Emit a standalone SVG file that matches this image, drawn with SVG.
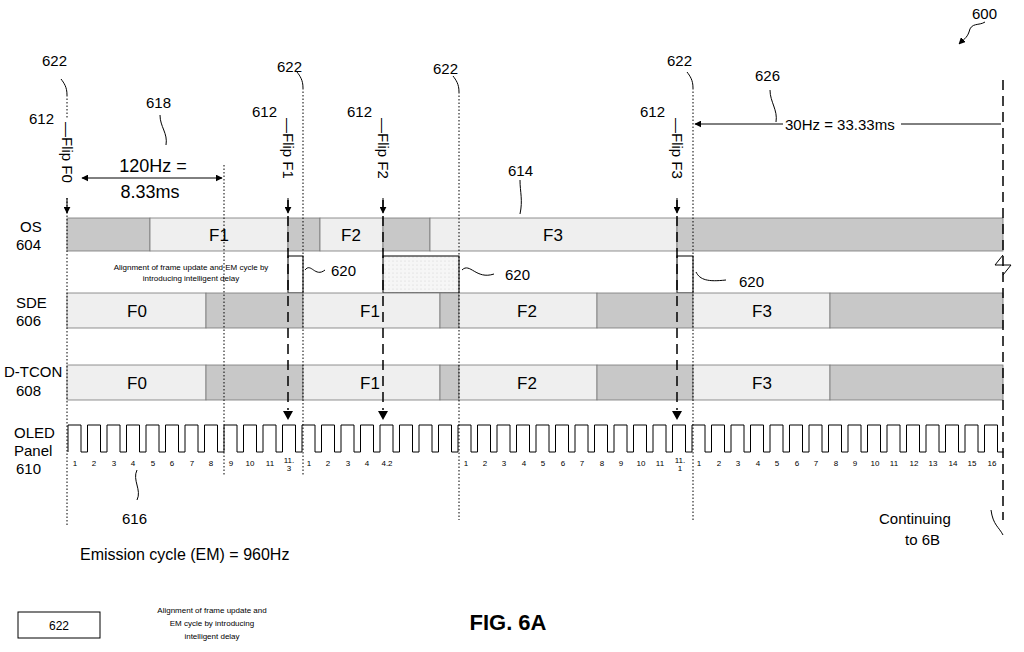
<svg xmlns="http://www.w3.org/2000/svg" width="1024" height="652" viewBox="0 0 1024 652">
<defs>
<marker id="ah" viewBox="0 0 10 10" refX="9" refY="5" markerWidth="7" markerHeight="7" orient="auto-start-reverse"><path d="M0,0L10,5L0,10z" fill="#000"/></marker>
<pattern id="hatch" width="4" height="4" patternUnits="userSpaceOnUse"><rect width="4" height="4" fill="#f6f6f6"/><circle cx="1" cy="1" r="0.5" fill="#ccc"/></pattern>
</defs>
<style>
text{font-family:"Liberation Sans",Arial,sans-serif;fill:#000}
.lb{font-size:15px}
.fr{font-size:17px;text-anchor:middle}
.n{font-size:8px;text-anchor:middle}
.g{fill:#c8c8c8;stroke:#777;stroke-width:0.8}
.l{fill:#efefef;stroke:#777;stroke-width:0.8}
.dot{stroke:#000;stroke-width:1;stroke-dasharray:1.5,2;fill:none}
.dash{stroke:#000;stroke-width:1.5;stroke-dasharray:10,6;fill:none}
.ld{stroke:#000;stroke-width:1;fill:none}
.sm{font-size:8px;text-anchor:middle}
</style>
<rect width="1024" height="652" fill="#fff"/>
<g id="rows">
<g id="os"><rect class="g" x="67" y="218" width="83" height="33"/><rect class="l" x="150" y="218" width="138" height="33"/><rect class="g" x="288" y="218" width="32" height="33"/><rect class="l" x="320" y="218" width="63" height="33"/><rect class="g" x="383" y="218" width="47" height="33"/><rect class="l" x="430" y="218" width="247" height="33"/><rect class="g" x="677" y="218" width="326" height="33"/>
<text class="fr" x="219" y="241">F1</text><text class="fr" x="351" y="241">F2</text><text class="fr" x="553" y="241">F3</text></g>
<g id="delay"><rect x="288" y="256" width="15" height="37" fill="#fff" stroke="#000"/><rect x="383" y="256" width="76" height="37" fill="url(#hatch)" stroke="#000"/><rect x="677" y="256" width="16" height="37" fill="#fff" stroke="#000"/>
<text class="sm" x="191" y="270">Alignment of frame update and EM cycle by</text><text class="sm" x="191" y="281">introducing intelligent delay</text></g>
<g id="sde"><rect class="l" x="67" y="293" width="139" height="35"/><rect class="g" x="206" y="293" width="97" height="35"/><rect class="l" x="303" y="293" width="137" height="35"/><rect class="g" x="440" y="293" width="19" height="35"/><rect class="l" x="459" y="293" width="138" height="35"/><rect class="g" x="597" y="293" width="96" height="35"/><rect class="l" x="693" y="293" width="137" height="35"/><rect class="g" x="830" y="293" width="173" height="35"/>
<text class="fr" x="137" y="317">F0</text><text class="fr" x="370" y="317">F1</text><text class="fr" x="527" y="317">F2</text><text class="fr" x="762" y="317">F3</text></g>
<g id="dtcon"><rect class="l" x="67" y="365" width="139" height="35"/><rect class="g" x="206" y="365" width="97" height="35"/><rect class="l" x="303" y="365" width="137" height="35"/><rect class="g" x="440" y="365" width="19" height="35"/><rect class="l" x="459" y="365" width="138" height="35"/><rect class="g" x="597" y="365" width="96" height="35"/><rect class="l" x="693" y="365" width="137" height="35"/><rect class="g" x="830" y="365" width="173" height="35"/>
<text class="fr" x="137" y="389">F0</text><text class="fr" x="370" y="389">F1</text><text class="fr" x="527" y="389">F2</text><text class="fr" x="762" y="389">F3</text></g>
<g id="oled"><path class="ld" stroke-width="1.3" d="M68,452V425
h13v27h6.5v-27h13v27h6.5v-27h13v27h6.5v-27h13v27h6.5v-27h13v27h6.5v-27h13v27h6.5v-27h13v27h6.5v-27h13v27h6.5v-27
h13v27h6.5v-27h13v27h6.5v-27h13v27h6.5v-27h13v27h6.5v-27h13v27h6.5v-27h13v27h6.5v-27h13v27h6.5v-27h13v27h6.5v-27
h13v27h6.5v-27h13v27h6.5v-27h13v27h6.5v-27h13v27h6.5v-27h13v27h6.5v-27h13v27h6.5v-27h13v27h6.5v-27h13v27h6.5v-27
h13v27h6.5v-27h13v27h6.5v-27h13v27h6.5v-27h13v27h6.5v-27h13v27h6.5v-27h13v27h6.5v-27h13v27h6.5v-27h13v27h6.5v-27
h13v27h6.5v-27h13v27h6.5v-27h13v27h6.5v-27h13v27h6.5v-27h13v27h6.5v-27h13v27h6.5v-27h13v27h6.5v-27h13v27h6.5v-27
h13v27h6.5v-27h13v27h6.5v-27h13v27h6.5v-27h13v27h6.5v-27h13v27h6.5v-27h13v27h6.5v-27h13v27h6.5v-27h13v27h6"/>
<g class="n">
<text x="75" y="466">1</text><text x="94" y="466">2</text><text x="114" y="466">3</text><text x="133" y="466">4</text><text x="153" y="466">5</text><text x="172" y="466">6</text><text x="192" y="466">7</text><text x="211" y="466">8</text><text x="231" y="466">9</text><text x="250" y="466">10</text><text x="270" y="466">11</text><text x="289" y="463">11.</text><text x="289" y="471">3</text>
<text x="309" y="466">1</text><text x="328" y="466">2</text><text x="348" y="466">3</text><text x="367" y="466">4</text><text x="387" y="466">4.2</text>
<text x="466" y="466">1</text><text x="485" y="466">2</text><text x="504" y="466">3</text><text x="524" y="466">4</text><text x="543" y="466">5</text><text x="563" y="466">6</text><text x="582" y="466">7</text><text x="602" y="466">8</text><text x="621" y="466">9</text><text x="641" y="466">10</text><text x="660" y="466">11</text><text x="680" y="463">11.</text><text x="680" y="471">1</text>
<text x="699" y="466">1</text><text x="719" y="466">2</text><text x="738" y="466">3</text><text x="758" y="466">4</text><text x="777" y="466">5</text><text x="797" y="466">6</text><text x="816" y="466">7</text><text x="836" y="466">8</text><text x="855" y="466">9</text><text x="875" y="466">10</text><text x="894" y="466">11</text><text x="914" y="466">12</text><text x="933" y="466">13</text><text x="953" y="466">14</text><text x="972" y="466">15</text><text x="992" y="466">16</text>
</g></g>
</g>
<g id="connectors">
<path class="dot" d="M67,95V118M67,198V525M224,165V475M303,88V475M459,92V520M693,88V520"/>
<path class="dash" d="M288,200V410M383,200V410M677,200V410M1003,80V520"/>
<path class="ld" d="M67,198V213" marker-end="url(#ah)"/>
<path class="ld" d="M288,198V213" marker-end="url(#ah)"/>
<path class="ld" d="M383,198V213" marker-end="url(#ah)"/>
<path class="ld" d="M677,198V213" marker-end="url(#ah)"/>
<path d="M283,411h10l-5,9zM378,411h10l-5,9zM672,411h10l-5,9z" fill="#000"/>
<path class="ld" d="M82,178H222" marker-start="url(#ah)" marker-end="url(#ah)"/>
<path class="ld" d="M695,124H1001" marker-start="url(#ah)"/>
<path class="ld" d="M67,95c0,-8 -3,-12 -6,-16M303,88c0,-8 -3,-12 -6,-16M459,92c0,-8 -3,-12 -6,-16M693,88c0,-8 -3,-12 -6,-16"/>
<path class="ld" d="M160,115c0,12 8,18 6,30M520,180c0,12 3,20 0,34M770,90c0,12 8,20 6,32M137,470c-5,10 5,20 0,30"/>
<path class="ld" d="M305,270c6,-8 10,8 20,0M462,270c8,-8 14,10 32,4M696,272c4,8 12,10 30,8"/>
<path class="ld" d="M985,22c-6,4 -14,0 -16,10c-2,6 -6,8 -10,12" marker-end="url(#ah)"/>
<path class="ld" d="M1003,535c-4,-8 -10,-10 -12,-25"/>
<path class="ld" stroke-width="1.3" d="M1003,255l-8,10l16,0l-8,10"/>
</g>
<g id="labels">
<text class="lb" x="20" y="232">OS</text><text class="lb" x="16" y="250">604</text>
<text class="lb" x="16" y="308">SDE</text><text class="lb" x="16" y="326">606</text>
<text class="lb" x="4" y="377">D-TCON</text><text class="lb" x="16" y="396">608</text>
<text class="lb" x="14" y="438">OLED</text><text class="lb" x="14" y="456">Panel</text><text class="lb" x="16" y="474">610</text>
<text class="lb" x="42" y="66">622</text><text class="lb" x="277" y="72">622</text><text class="lb" x="433" y="74">622</text><text class="lb" x="667" y="66">622</text>
<text class="lb" x="29" y="124">612</text><text class="lb" x="252" y="117">612</text><text class="lb" x="347" y="117">612</text><text class="lb" x="640" y="117">612</text>
<g font-size="15"><text transform="translate(62,122) rotate(90)">—Flip F0</text><text transform="translate(283,118) rotate(90)">—Flip F1</text><text transform="translate(378,118) rotate(90)">—Flip F2</text><text transform="translate(672,118) rotate(90)">—Flip F3</text></g>
<text class="lb" x="146" y="108">618</text>
<text x="153" y="172" font-size="18" text-anchor="middle">120Hz =</text><text x="150" y="198" font-size="18" text-anchor="middle">8.33ms</text>
<text class="lb" x="508" y="176">614</text>
<text class="lb" x="755" y="81">626</text>
<rect x="783" y="116" width="118" height="16" fill="#fff"/>
<text class="lb" x="785" y="130">30Hz = 33.33ms</text>
<text class="lb" x="972" y="19">600</text>
<text class="lb" x="331" y="276">620</text><text class="lb" x="505" y="280">620</text><text class="lb" x="739" y="287">620</text>
<text class="lb" x="122" y="524">616</text>
<text class="lb" x="879" y="524">Continuing</text><text class="lb" x="905" y="545">to 6B</text>
<text x="80" y="560" font-size="16">Emission cycle (EM) = 960Hz</text>
</g>
<g id="legend">
<rect x="18" y="612" width="82" height="26" fill="#fff" stroke="#000"/><text x="59" y="630" font-size="12" text-anchor="middle">622</text>
<text class="sm" x="212" y="613">Alignment of frame update and</text><text class="sm" x="212" y="626">EM cycle by introducing</text><text class="sm" x="212" y="639">intelligent delay</text>
</g>
<text x="508" y="630" font-size="22" font-weight="bold" text-anchor="middle">FIG. 6A</text>
</svg>
